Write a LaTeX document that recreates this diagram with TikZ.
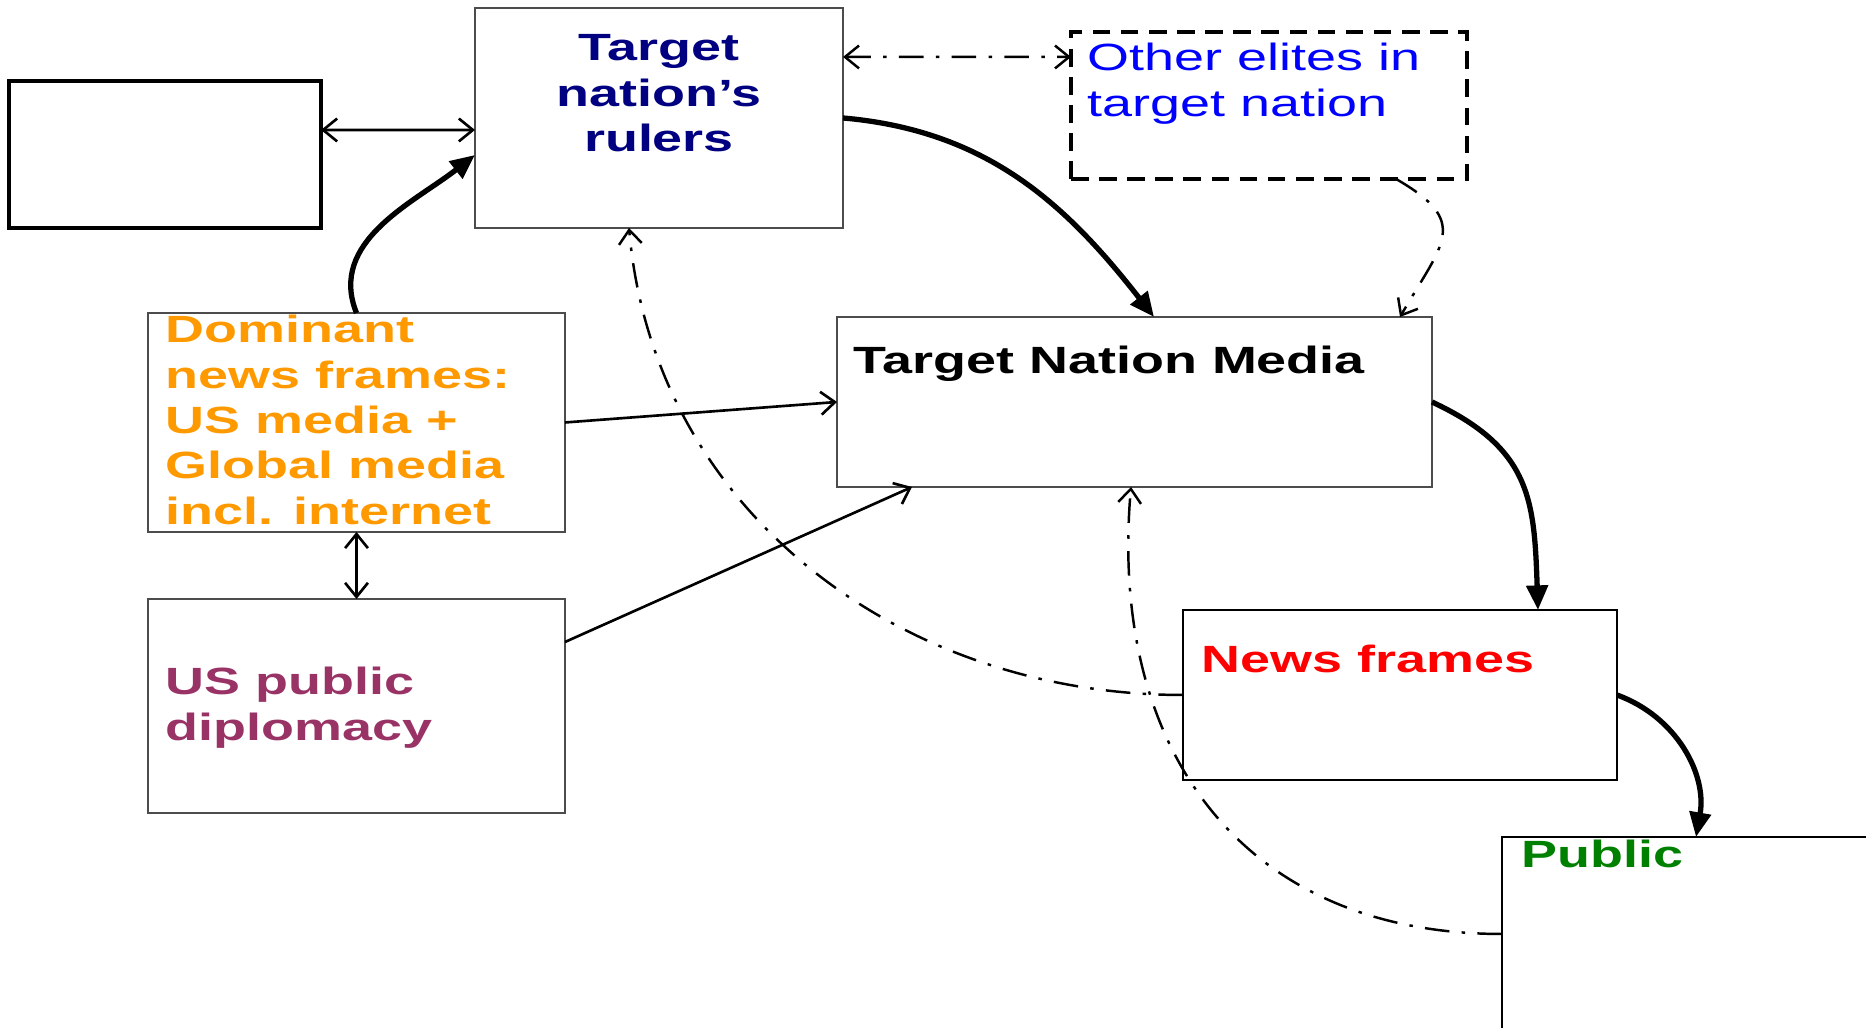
\documentclass[tikz,border=0pt]{standalone}
\usepackage{fontspec}
\setmainfont{Liberation Sans}
\usepackage{graphicx}
\usetikzlibrary{arrows.meta}
\definecolor{rulerblue}{HTML}{000080}
\definecolor{eliteblue}{HTML}{0000FF}
\definecolor{domorange}{HTML}{FF9900}
\definecolor{diplopurple}{HTML}{993366}
\definecolor{newsred}{HTML}{FF0000}
\definecolor{publicgreen}{HTML}{008000}
\newcommand{\stretchtext}[2]{\scalebox{1.42}[1]{\begin{tabular}[t]{@{}#1@{}}#2\end{tabular}}}
\tikzstyle{box}=[draw=black!70, line width=0.5pt, inner sep=0pt, outer sep=0pt]
\tikzstyle{emptybox}=[box, draw=black, line width=0.9pt]
\tikzstyle{elitebox}=[box, draw=black, line width=0.9pt, dash pattern=on 5pt off 3pt]
\tikzstyle{caption}=[inner sep=0pt, font=\fontsize{10.8}{12.9}\selectfont]
\tikzstyle{heading}=[inner sep=0pt, font=\bfseries\fontsize{10.8}{12.9}\selectfont]
\tikzstyle{strong}=[line width=1.5pt, -{Triangle[length=7pt,width=6pt]}]
\tikzstyle{link}=[line width=0.75pt]
\tikzstyle{hint}=[line width=0.7pt, dash pattern=on 7pt off 3.5pt on 1pt off 3.5pt]

\begin{document}
\begin{tikzpicture}[>={Straight Barb[length=4pt,width=6.5pt]}, x=0.1mm, y=0.1mm]
\path[use as bounding box, clip] (0,0) rectangle (1866,1028);
% boxes
\node[emptybox, minimum width=3.12cm, minimum height=1.47cm] (blank) at (165,873.5) {};
\node[box, minimum width=3.68cm, minimum height=2.2cm] (rulers) at (659,910) {};
\node[elitebox, minimum width=3.96cm, minimum height=1.47cm] (elites) at (1269,922.5) {};
\node[box, minimum width=4.17cm, minimum height=2.19cm] (dominant) at (356.5,605.5) {};
\node[box, minimum width=4.17cm, minimum height=2.14cm] (diplomacy) at (356.5,322) {};
\node[box, minimum width=5.95cm, minimum height=1.7cm] (media) at (1134.5,626) {};
\node[box, draw=black, minimum width=4.34cm, minimum height=1.7cm] (news) at (1400,333) {};
\node[box, draw=black, minimum width=3.98cm, minimum height=2.63cm] (public) at (1701,59.5) {};
% texts
\node[heading, text=rulerblue, anchor=base] (rulers-text) at (659,967) {\stretchtext{c}{Target\\nation’s\\rulers}};
\node[caption, text=eliteblue, anchor=base west] (elites-text) at (1087,957) {\stretchtext{l}{Other elites in\\target nation}};
\node[heading, text=domorange, anchor=base west] (dominant-text) at (165,685) {\stretchtext{l}{Dominant\\news frames:\\US media +\\Global media\\incl. internet}};
\node[heading, text=diplopurple, anchor=base west] (diplomacy-text) at (165,333) {\stretchtext{l}{US public\\diplomacy}};
\node[heading, anchor=base west] (media-text) at (853,654) {\stretchtext{l}{Target Nation Media}};
\node[heading, text=newsred, anchor=base west] (news-text) at (1201,355) {\stretchtext{l}{News frames}};
\node[heading, text=publicgreen, anchor=base west] (public-text) at (1521,160) {\stretchtext{l}{Public}};
% connectors
\draw[link, <->] ([yshift=2.45mm]blank.east) -- ([yshift=-1.2mm]rulers.west);
\draw[strong] (dominant.north) to[out=112, in=218] ([yshift=-3.7mm]rulers.west);
\draw[strong] (rulers.east) to[out=-5, in=128] ([xshift=1.95mm]media.north);
\draw[hint, <->] ([yshift=6.1mm]rulers.east) -- ([yshift=4.85mm]elites.west);
\draw[hint, ->] ([xshift=12.7mm]elites.south) to[out=-30, in=60, looseness=1.6] ([xshift=26.55mm]media.north);
\draw[link, ->] (dominant.east) -- (media.west);
\draw[link, ->] ([yshift=6.4mm]diplomacy.east) -- ([xshift=-22.25mm]media.south);
\draw[link, <->] (dominant.south) -- (diplomacy.north);
\draw[strong] (media.east) to[out=-25, in=92, looseness=1.2] ([xshift=13.8mm]news.north);
\draw[strong] (news.east) to[out=-20, in=80] ([xshift=-0.5mm]public.north);
\draw[hint, ->] (news.west) to[out=180, in=-85] ([xshift=-3mm]rulers.south);
\draw[hint, ->] ([yshift=3.45mm]public.west) to[out=180, in=-95, looseness=1.15] ([xshift=-0.35mm]media.south);
\end{tikzpicture}
\end{document}
